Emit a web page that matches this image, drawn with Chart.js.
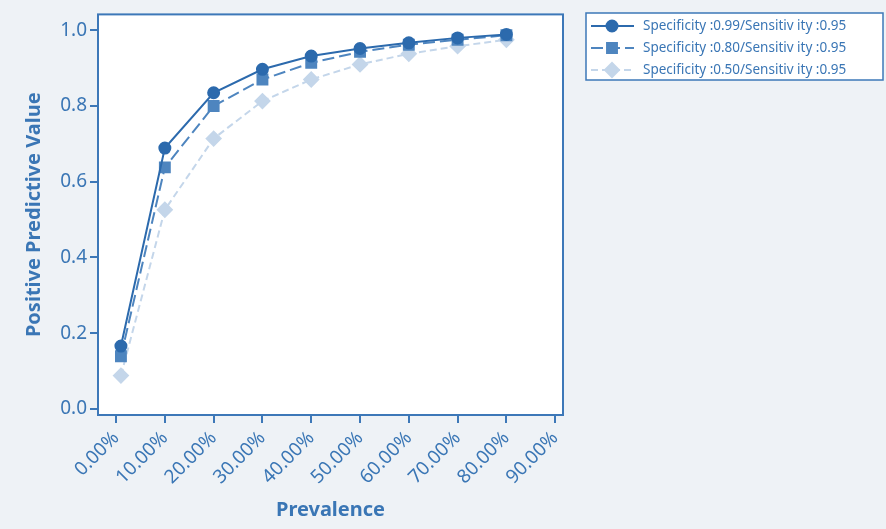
<!DOCTYPE html>
<html>
<head>
<meta charset="utf-8">
<script src="https://cdn.jsdelivr.net/npm/chart.js@4.4.1/dist/chart.umd.min.js"></script>
<style>
    html, body { margin: 0; padding: 0; background: #eef2f6; }
    #wrap { width: 886px; height: 529px; position: relative; }
</style>
</head>
<body>
<div id="wrap"><canvas id="ppvChart"></canvas></div>
<script>
// Prevalence (%) of each point
const prevalence = [1, 10, 20, 30, 40, 50, 60, 70, 80];

// Positive predictive value per specificity
const spec99 = [0.166, 0.689, 0.835, 0.897, 0.932, 0.952, 0.967, 0.980, 0.989];
const spec80 = [0.139, 0.638, 0.800, 0.870, 0.914, 0.943, 0.962, 0.975, 0.987];
const spec50 = [0.088, 0.526, 0.714, 0.813, 0.870, 0.910, 0.938, 0.958, 0.975];

const seriesLabels = [
    'Specificity :0.99/Sensitiv ity :0.95',
    'Specificity :0.80/Sensitiv ity :0.95',
    'Specificity :0.50/Sensitiv ity :0.95'
];

// Tick labels
const xTicks = [0, 10, 20, 30, 40, 50, 60, 70, 80, 90];
const yTicks = [0, 0.2, 0.4, 0.6, 0.8, 1.0];

const axisColor = '#3d78b8';
const textColor = '#3a76b5';
const fontFamily = '"Noto Sans", "DejaVu Sans", sans-serif';

function toPoints(values) {
    return prevalence.map((p, i) => ({ x: p, y: values[i] }));
}

// White plot box with a border, plus a boxed legend at the right
const framePlugin = {
    id: 'frame',
    beforeDraw(chart) {
        const { ctx, chartArea: a } = chart;
        ctx.save();
        ctx.fillStyle = '#ffffff';
        ctx.fillRect(a.left, a.top, a.right - a.left, a.bottom - a.top);
        ctx.restore();
    },
    afterDraw(chart) {
        const { ctx, chartArea: a } = chart;
        ctx.save();
        ctx.strokeStyle = axisColor;
        ctx.lineWidth = 2;
        ctx.strokeRect(a.left, a.top, a.right - a.left, a.bottom - a.top);

        // legend box
        const box = { left: 586, top: 13, right: 883, bottom: 80 };
        ctx.fillStyle = '#ffffff';
        ctx.fillRect(box.left, box.top, box.right - box.left, box.bottom - box.top);
        ctx.lineWidth = 1.5;
        ctx.strokeRect(box.left, box.top, box.right - box.left, box.bottom - box.top);

        chart.data.datasets.forEach((ds, i) => {
            const y = 26 + i * 22;
            ctx.strokeStyle = ds.borderColor;
            ctx.lineWidth = ds.borderWidth;
            ctx.setLineDash(ds.borderDash || []);
            ctx.beginPath();
            ctx.moveTo(591, y);
            ctx.lineTo(634, y);
            ctx.stroke();
            ctx.setLineDash([]);
            ctx.fillStyle = ds.pointBackgroundColor;
            ctx.strokeStyle = ds.pointBackgroundColor;
            Chart.helpers.drawPoint(ctx, {
                pointStyle: ds.pointStyle,
                radius: ds.pointRadius,
                rotation: 0,
                borderWidth: 1
            }, 612, y);
            ctx.fillStyle = textColor;
            ctx.font = '13.5px ' + fontFamily;
            ctx.textBaseline = 'middle';
            ctx.textAlign = 'left';
            ctx.fillText(ds.label, 643, y);
        });
        ctx.restore();
    }
};

const ctx = document.getElementById('ppvChart').getContext('2d');

new Chart(ctx, {
    type: 'line',
    data: {
        datasets: [
            {
                label: seriesLabels[0],
                data: toPoints(spec99),
                borderColor: '#2c6aad',
                backgroundColor: '#2c6aad',
                pointBackgroundColor: '#2c6aad',
                pointBorderColor: '#2c6aad',
                borderWidth: 2,
                pointStyle: 'circle',
                pointRadius: 5.5
            },
            {
                label: seriesLabels[1],
                data: toPoints(spec80),
                borderColor: '#4e85bf',
                backgroundColor: '#4e85bf',
                pointBackgroundColor: '#4e85bf',
                pointBorderColor: '#4e85bf',
                borderWidth: 2,
                borderDash: [12, 5],
                pointStyle: 'rect',
                pointRadius: 7
            },
            {
                label: seriesLabels[2],
                data: toPoints(spec50),
                borderColor: '#c4d6ea',
                backgroundColor: '#c4d6ea',
                pointBackgroundColor: '#c4d6ea',
                pointBorderColor: '#c4d6ea',
                borderWidth: 2,
                borderDash: [7, 4],
                pointStyle: 'rectRot',
                pointRadius: 7
            }
        ]
    },
    options: {
        responsive: true,
        maintainAspectRatio: false,
        animation: false,
        layout: { padding: { left: 18, right: 323, top: 13, bottom: 3 } },
        plugins: {
            legend: { display: false },
            tooltip: { enabled: false }
        },
        scales: {
            x: {
                type: 'linear',
                min: -3.7,
                max: 91.6,
                afterBuildTicks: (scale) => { scale.ticks = xTicks.map(v => ({ value: v })); },
                afterFit: (scale) => { scale.height = 111; },
                border: { display: false },
                grid: { drawOnChartArea: false, drawTicks: true, tickLength: 8, color: axisColor, lineWidth: 2 },
                ticks: {
                    autoSkip: false,
                    maxRotation: 45,
                    minRotation: 45,
                    padding: 4,
                    color: textColor,
                    font: { family: fontFamily, size: 19 },
                    callback: (v) => v.toFixed(2) + '%'
                },
                title: {
                    display: true,
                    text: 'Prevalence',
                    color: textColor,
                    font: { family: fontFamily, size: 20, weight: 'bold' }
                }
            },
            y: {
                min: -0.016,
                max: 1.042,
                afterBuildTicks: (scale) => { scale.ticks = yTicks.map(v => ({ value: v })); },
                afterFit: (scale) => { scale.width = 80; },
                border: { display: false },
                grid: { drawOnChartArea: false, drawTicks: true, tickLength: 8, color: axisColor, lineWidth: 2 },
                ticks: {
                    padding: 3,
                    color: textColor,
                    font: { family: fontFamily, size: 19 },
                    callback: (v) => v.toFixed(1)
                },
                title: {
                    display: true,
                    text: 'Positive Predictive Value',
                    color: textColor,
                    font: { family: fontFamily, size: 20, weight: 'bold' }
                }
            }
        }
    },
    plugins: [framePlugin]
});
</script>
</body>
</html>
